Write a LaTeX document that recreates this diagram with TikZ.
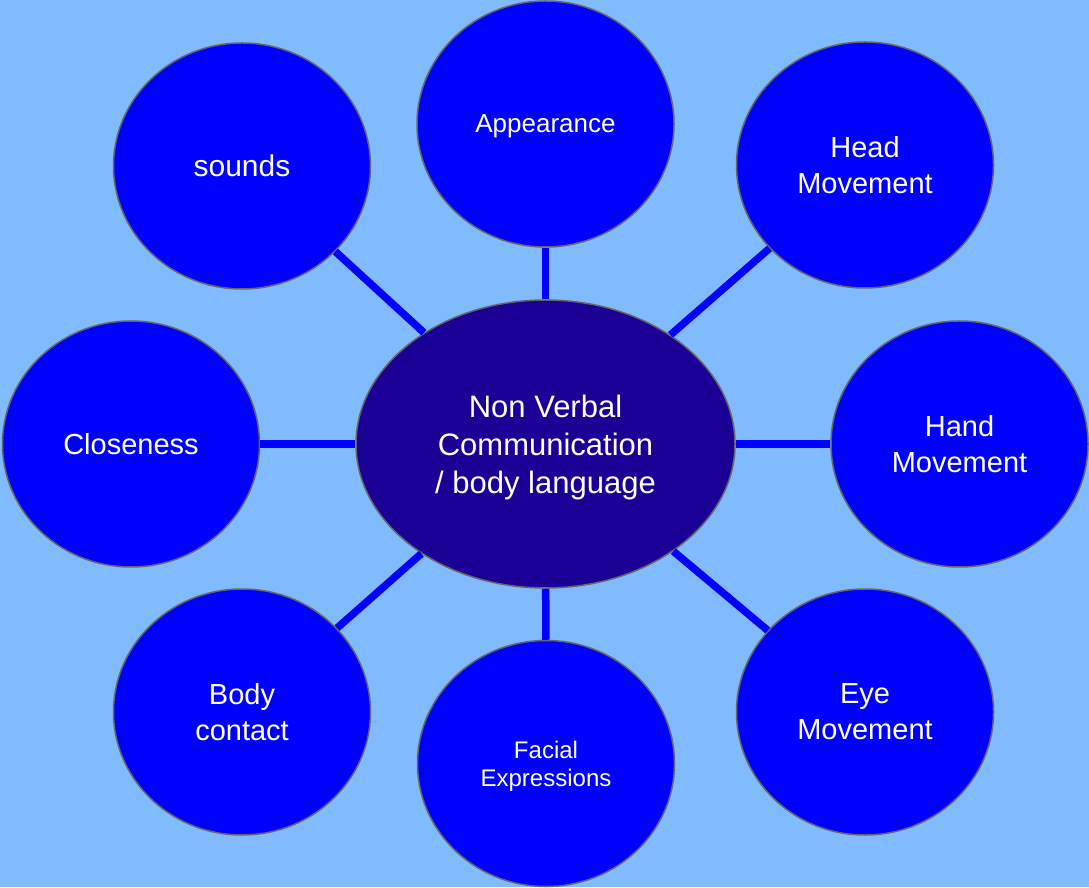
\documentclass[tikz,border=0pt]{standalone}
\usepackage{fontspec}
\setmainfont{Liberation Sans}
\usepackage{tikz}
\definecolor{bg}{RGB}{128, 186, 255}
\definecolor{bub}{RGB}{0, 0, 255}
\definecolor{mid}{RGB}{27, 0, 150}
\definecolor{rim}{RGB}{102, 102, 102}
\usetikzlibrary{shapes.geometric}
\tikzset{
  bubble/.style={ellipse, inner sep=0pt, minimum width=257pt, minimum height=246pt, fill=bub, draw=rim, line width=1.5pt, text=white, align=center, font=\fontsize{29}{36}\selectfont},
  link/.style={line width=7.5pt, color=bub}
}

\begin{document}
\begin{tikzpicture}[x=1pt, y=1pt]
\useasboundingbox (0pt, 0pt) rectangle (1089pt, 887pt);
\fill [bg] (0pt, 0pt) rectangle (1089pt, 887pt);
\node (nvc) [ellipse, inner sep=0pt, minimum width=379pt, minimum height=288pt, fill=mid, draw=rim, line width=1.5pt, text=white, align=center, font=\fontsize{31}{38}\selectfont] at (545.5pt, 443pt) {Non Verbal\\Communication\\\smash{/ body language}};
\node (app) [bubble, text depth=0pt, font=\fontsize{26}{31}\selectfont] at (545.5pt, 763pt) {Appearance};
\node (snd) [bubble, font=\fontsize{30}{36}\selectfont] at (242pt, 721pt) {sounds};
\node (head) [bubble] at (865pt, 722pt) {Head\\Movement};
\node (close) [bubble] at (131pt, 443pt) {Closeness};
\node (hand) [bubble] at (959.5pt, 443pt) {Hand\\Movement};
\node (body) [bubble] at (242pt, 175pt) {Body\\contact};
\node (eye) [bubble] at (865pt, 175pt) {Eye\\Movement};
\node (face) [bubble, font=\fontsize{24}{28}\selectfont] at (546pt, 123.5pt) {Facial\\\smash{Expressions}};
\draw [link] (nvc) to (app);
\draw [link] (nvc) to (snd);
\draw [link] (nvc) to (head);
\draw [link] (nvc) to (close);
\draw [link] (nvc) to (hand);
\draw [link] (nvc) to (body);
\draw [link] (nvc) to (eye);
\draw [link] (nvc) to (face);
\end{tikzpicture}
\end{document}
